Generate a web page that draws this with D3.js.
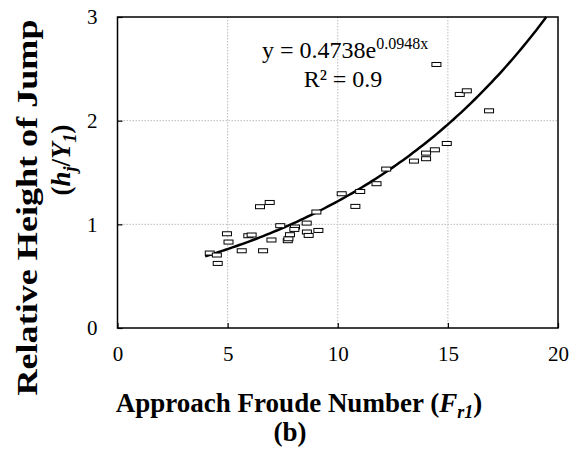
<!DOCTYPE html>
<html>
<head>
<meta charset="utf-8">
<script src="https://cdn.jsdelivr.net/npm/d3@7"></script>
<style>
  body { margin: 0; background: #fff; }
  svg text { font-family: "Liberation Serif", "Times New Roman", serif; }
</style>
</head>
<body>
<div id="chart"></div>
<script>
// data
let froude = [4.19, 4.51, 4.55, 4.97, 5.04, 5.64, 5.94, 6.09, 6.47, 6.91,
  6.61, 6.99, 7.39, 7.73, 7.76, 7.83, 8.06, 8.03, 8.59, 8.60,
  8.68, 9.03, 9.12, 10.18, 10.80, 11.02, 11.76, 12.20, 13.46, 14.01,
  14.01, 14.41, 14.95, 14.48, 15.54, 15.86, 16.87];
let jump = [0.723, 0.704, 0.623, 0.909, 0.829, 0.745, 0.890, 0.897, 1.170, 1.211,
  0.745, 0.849, 0.987, 0.842, 0.861, 0.900, 0.974, 0.951, 1.012, 0.926,
  0.893, 1.119, 0.941, 1.295, 1.173, 1.317, 1.392, 1.533, 1.610, 1.633,
  1.687, 1.719, 1.780, 2.542, 2.253, 2.288, 2.095];
let xTicks = [0, 5, 10, 15, 20];
let yTicks = [0, 1, 2, 3];
let fitA = 0.4738, fitB = 0.0948;
let fitStart = 3.98;

let width = 576, height = 450;
let padL = 117.5, padR = 558, padT = 17, padB = 328;

let svg = d3.select('#chart').append('svg')
  .attr('width', width)
  .attr('height', height)

let x = d3.scaleLinear().domain([0, 20]).range([padL, padR]);
let y = d3.scaleLinear().domain([0, 3]).range([padB, padT]);

// grid
svg.selectAll('.gx').data(xTicks.slice(1, -1)).enter().append('line')
  .attr('x1', d => x(d)).attr('x2', d => x(d))
  .attr('y1', padT).attr('y2', padB)
  .attr('stroke', '#bbb').attr('stroke-width', 1).attr('stroke-dasharray', '1.5,1.5')
svg.selectAll('.gy').data(yTicks.slice(1, -1)).enter().append('line')
  .attr('x1', padL).attr('x2', padR)
  .attr('y1', d => y(d)).attr('y2', d => y(d))
  .attr('stroke', '#bbb').attr('stroke-width', 1).attr('stroke-dasharray', '1.5,1.5')

// axes (ticks point inward)
let xAxis = svg.append('g').attr('transform', 'translate(0,' + padB + ')')
  .call(d3.axisBottom(x).tickValues(xTicks).tickSize(-5).tickPadding(14).tickFormat(d3.format('d')));
let yAxis = svg.append('g').attr('transform', 'translate(' + padL + ',0)')
  .call(d3.axisLeft(y).tickValues(yTicks).tickSize(-5).tickPadding(20).tickFormat(d3.format('d')));
[xAxis, yAxis].forEach(g => {
  g.attr('font-family', null);
  g.select('.domain').remove();
  g.selectAll('line').attr('stroke', '#000').attr('stroke-width', 1.2);
  g.selectAll('text').attr('font-size', 21).attr('fill', '#000')
    .style('font-family', '"Liberation Serif", serif');
});
xAxis.selectAll('text').attr('dy', '0.9em');

// frame
svg.append('rect')
  .attr('x', padL).attr('y', padT)
  .attr('width', padR - padL).attr('height', padB - padT)
  .attr('fill', 'none').attr('stroke', '#000').attr('stroke-width', 1.5)

// fitted curve
let fitEnd = Math.log(3 / fitA) / fitB;
let curve = d3.range(0, 101).map(i => {
  let fx = fitStart + (fitEnd - fitStart) * i / 100;
  return [fx, fitA * Math.exp(fitB * fx)];
});
svg.append('path')
  .datum(curve)
  .attr('d', d3.line().x(d => x(d[0])).y(d => y(d[1])))
  .attr('fill', 'none').attr('stroke', '#000').attr('stroke-width', 2.5)

// points
svg.selectAll('.pt').data(froude).enter().append('rect').classed('pt', true)
  .attr('x', (d, i) => x(d) - 4.5)
  .attr('y', (d, i) => y(jump[i]) - 2)
  .attr('width', 9).attr('height', 4)
  .attr('fill', '#fff').attr('stroke', '#000').attr('stroke-width', 1)

// equation
let eq = svg.append('text').attr('x', 262).attr('y', 58).attr('font-size', 24).attr('fill', '#000');
eq.append('tspan').text('y = 0.4738e');
eq.append('tspan').attr('font-size', 16).attr('dy', -9).text('0.0948x');
svg.append('text').attr('x', 343).attr('y', 87).attr('font-size', 24)
  .attr('text-anchor', 'middle').text('R² = 0.9')

// x title
let xt = svg.append('text').attr('x', 299).attr('y', 412).attr('text-anchor', 'middle')
  .attr('font-size', 27).attr('font-weight', 'bold');
xt.append('tspan').text('Approach Froude Number (');
xt.append('tspan').attr('font-style', 'italic').text('F');
xt.append('tspan').attr('font-style', 'italic').attr('font-size', 18).attr('dy', 6).text('r1');
xt.append('tspan').attr('dy', -6).text(')');
svg.append('text').attr('x', 290).attr('y', 441).attr('text-anchor', 'middle')
  .attr('font-size', 27).attr('font-weight', 'bold').text('(b)')

// y title
svg.append('text').attr('transform', 'translate(37,207.5) rotate(-90)')
  .attr('text-anchor', 'middle').attr('font-size', 29).attr('font-weight', 'bold')
  .attr('textLength', 376).attr('lengthAdjust', 'spacingAndGlyphs')
  .text('Relative Height of Jump')
let yt = svg.append('text').attr('transform', 'translate(70,160) rotate(-90)')
  .attr('text-anchor', 'middle').attr('font-size', 27).attr('font-weight', 'bold');
yt.append('tspan').text('(');
yt.append('tspan').attr('font-style', 'italic').text('h');
yt.append('tspan').attr('font-style', 'italic').attr('font-size', 18).attr('dy', 6).text('j');
yt.append('tspan').attr('dy', -6).text('/');
yt.append('tspan').attr('font-style', 'italic').text('Y');
yt.append('tspan').attr('font-style', 'italic').attr('font-size', 18).attr('dy', 6).text('1');
yt.append('tspan').attr('dy', -6).text(')');
</script>
</body>
</html>
